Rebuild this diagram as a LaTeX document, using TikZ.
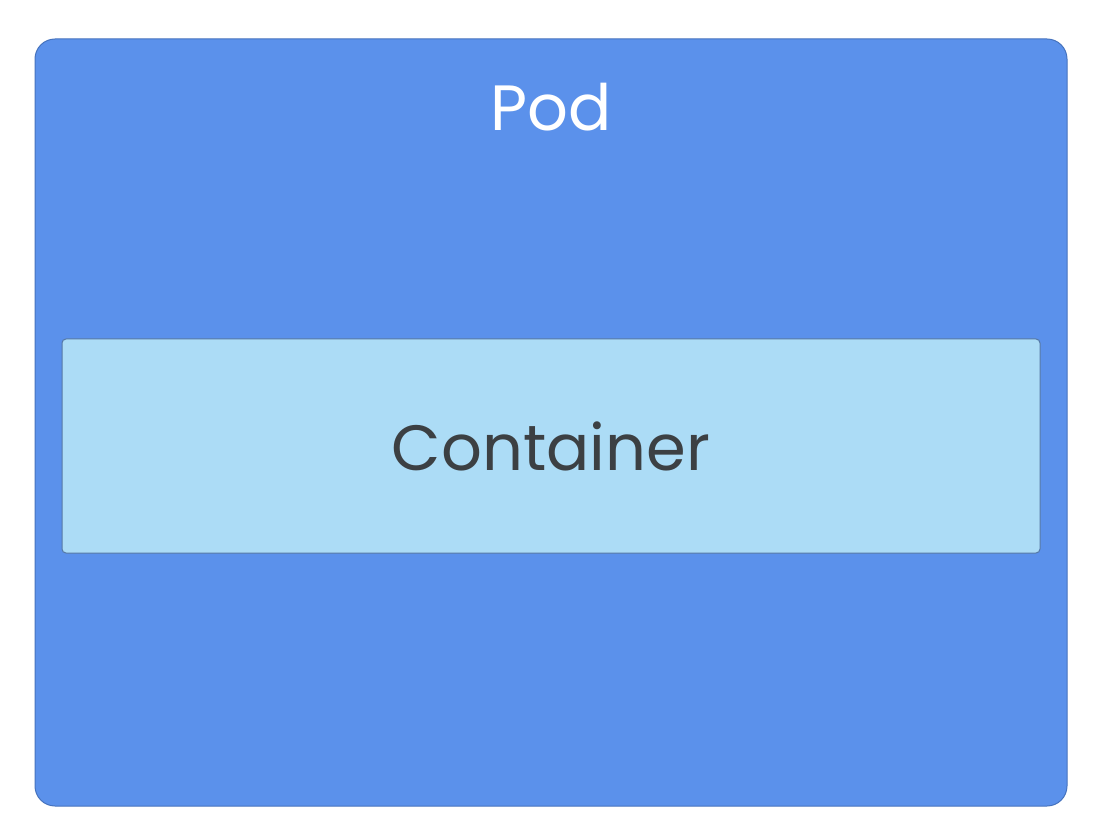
\documentclass[tikz,border=0pt]{standalone}
\usepackage{fontspec}
\setmainfont{Poppins}
\usepackage{xcolor}
\definecolor{podblue}{RGB}{91,145,235}
\definecolor{podline}{RGB}{70,115,190}
\definecolor{ctrblue}{RGB}{172,220,246}
\definecolor{ctrline}{RGB}{85,120,165}
\definecolor{ctrtext}{RGB}{60,64,67}

\begin{document}
\begin{tikzpicture}[x=1pt, y=-1pt]
    \tikzstyle{pod} = [rectangle, rounded corners=20pt, draw=podline, fill=podblue, line width=1pt, minimum width=1032pt, minimum height=767pt, inner sep=0pt]
    \tikzstyle{container} = [rectangle, rounded corners=4pt, draw=ctrline, fill=ctrblue, line width=1pt, minimum width=978pt, minimum height=214pt, inner sep=0pt]

    % Page frame
    \useasboundingbox[fill=white] (0,0) rectangle (1104,834);

    % Boxes
    \node [pod] (pod) at (551,422.5) {};
    \node [container] (container) at (551,446) {};

    % Labels
    \node [text=white, font=\fontsize{64}{72}\selectfont] (podlabel) at (551,107) {Pod};
    \node [text=ctrtext, font=\fontsize{64}{72}\selectfont] (ctrlabel) at (551,446) {Container};
\end{tikzpicture}
\end{document}
